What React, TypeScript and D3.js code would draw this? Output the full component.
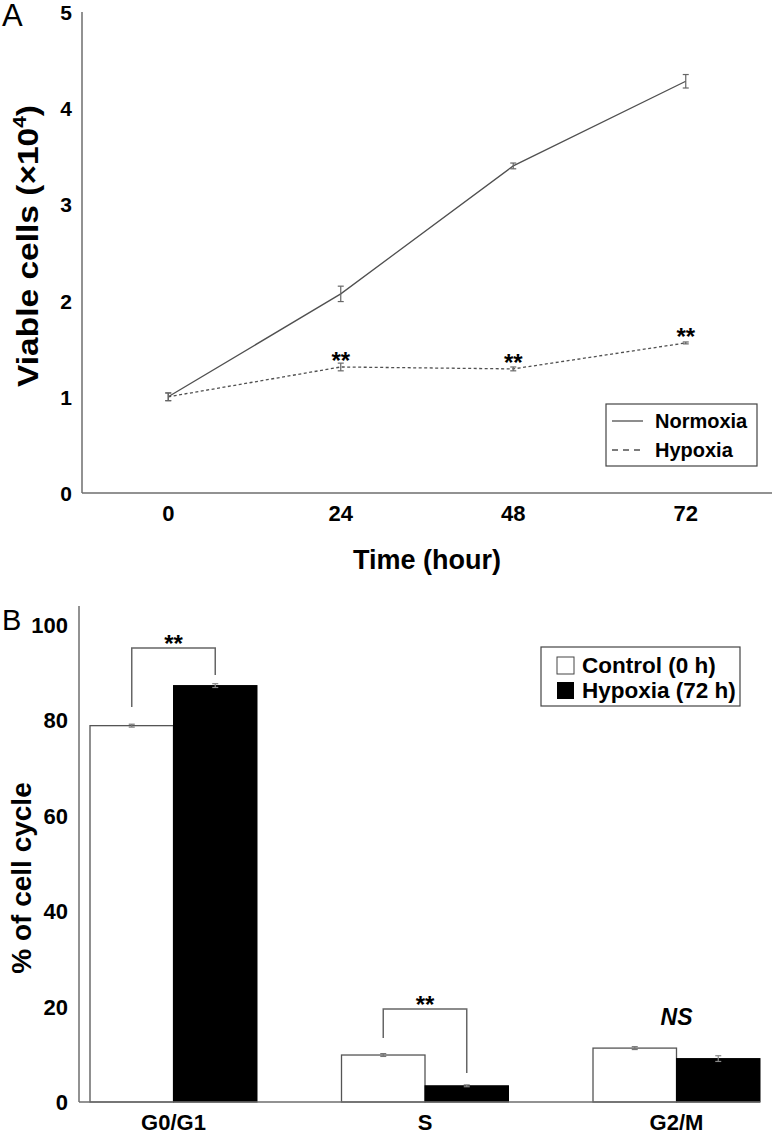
import React from "react";
import * as d3 from "d3";

// ---------- Panel A data ----------
const timePoints = [0, 24, 48, 72];
const normoxia = [1.0, 2.07, 3.4, 4.28];
const normoxiaErr = [0.04, 0.08, 0.03, 0.07];
const hypoxia = [1.0, 1.31, 1.29, 1.56];
const hypoxiaErr = [0.04, 0.04, 0.02, 0.01];
const hypoxiaSig = ["", "**", "**", "**"];
const yTicksA = [0, 1, 2, 3, 4, 5];

// ---------- Panel B data ----------
const phases = ["G0/G1", "S", "G2/M"];
const control0h = [78.9, 9.85, 11.3];
const control0hErr = [0.3, 0.3, 0.3];
const hypoxia72h = [87.3, 3.4, 9.1];
const hypoxia72hErr = [0.4, 0.2, 0.6];
const yTicksB = [0, 20, 40, 60, 80, 100];
const bracketPhases = ["G0/G1", "S"];
const bracketTop = [95.2, 19.5];
const bracketLeftEnd = [82.8, 13.4];
const bracketRightEnd = [89.5, 6.1];
const bracketLabel = ["**", "**"];
const nsPhase = "G2/M";
const nsValue = 17.8;

const FONT = "'Liberation Sans', Arial, sans-serif";
const AXIS = "#6e6e6e";
const LINE = "#505050";

export default function App() {
  // Panel A scales
  const xA = d3.scalePoint<number>().domain(timePoints).range([82, 772]).padding(0.5);
  const yA = d3.scaleLinear().domain([0, 5]).range([493, 12]);
  const lineA = d3
    .line<number>()
    .x((_, i) => xA(timePoints[i]) as number)
    .y((d) => yA(d));

  // Panel B scales
  const xB = d3.scaleBand<string>().domain(phases).range([90, 760]).paddingInner(0.336).paddingOuter(0);
  const bw = xB.bandwidth() / 2;
  const yB = d3.scaleLinear().domain([0, 100]).range([1102, 625]);

  const errBar = (cx: number, y0: number, y1: number, key: string, color = "#666") => (
    <g key={key} stroke={color} strokeWidth={1.2}>
      <line x1={cx} x2={cx} y1={y0} y2={y1} />
      <line x1={cx - 3} x2={cx + 3} y1={y0} y2={y0} />
      <line x1={cx - 3} x2={cx + 3} y1={y1} y2={y1} />
    </g>
  );

  return (
    <svg
      width={773}
      height={1133}
      style={{ position: "absolute", left: 0, top: 0, background: "#fff" }}
      fontFamily={FONT}
    >
      {/* ================= Panel A ================= */}
      <text x={2} y={26} fontSize={31} fill="#000">A</text>
      {/* axes */}
      <line x1={82} x2={82} y1={yA(5)} y2={yA(0)} stroke={AXIS} strokeWidth={1.5} />
      <line x1={82} x2={772} y1={yA(0)} y2={yA(0)} stroke={AXIS} strokeWidth={1.5} />
      {yTicksA.map((t) => (
        <text key={"ya" + t} x={72} y={yA(t) + 8} fontSize={21} fontWeight="bold" textAnchor="end">
          {t}
        </text>
      ))}
      {timePoints.map((t) => (
        <text key={"xa" + t} x={xA(t)} y={521} fontSize={22} fontWeight="bold" textAnchor="middle">
          {t}
        </text>
      ))}
      <text x={427} y={569} fontSize={27} fontWeight="bold" textAnchor="middle">
        Time (hour)
      </text>
      <text
        transform={`translate(38,246) rotate(-90)`}
        fontSize={29}
        fontWeight="bold"
        textAnchor="middle"
        textLength={282}
        lengthAdjust="spacingAndGlyphs"
      >
        Viable cells (×10<tspan fontSize={18} dy={-12}>4</tspan>
        <tspan dy={12}>)</tspan>
      </text>

      {/* lines */}
      <path d={lineA(normoxia) || ""} fill="none" stroke={LINE} strokeWidth={1.3} />
      <path d={lineA(hypoxia) || ""} fill="none" stroke={LINE} strokeWidth={1.3} strokeDasharray="3,2.5" />
      {normoxia.map((v, i) =>
        errBar(xA(timePoints[i]) as number, yA(v + normoxiaErr[i]), yA(v - normoxiaErr[i]), "ne" + i)
      )}
      {hypoxia.map((v, i) =>
        errBar(xA(timePoints[i]) as number, yA(v + hypoxiaErr[i]), yA(v - hypoxiaErr[i]), "he" + i)
      )}
      {hypoxia.map((v, i) =>
        hypoxiaSig[i] ? (
          <text key={"sig" + i} x={xA(timePoints[i])} y={yA(v) + 2} fontSize={24} fontWeight="bold" textAnchor="middle">
            {hypoxiaSig[i]}
          </text>
        ) : null
      )}

      {/* legend A */}
      <rect x={606} y={404} width={151} height={62} fill="#fff" stroke="#444" strokeWidth={1.2} />
      <line x1={612} x2={643} y1={421} y2={421} stroke={LINE} strokeWidth={1.3} />
      <text x={655} y={428} fontSize={20} fontWeight="bold">Normoxia</text>
      <line x1={612} x2={640} y1={450} y2={450} stroke={LINE} strokeWidth={1.3} strokeDasharray="6,5" />
      <text x={655} y={457} fontSize={20} fontWeight="bold">Hypoxia</text>

      {/* ================= Panel B ================= */}
      <text x={2} y={630} fontSize={29} fill="#000">B</text>
      <line x1={79} x2={79} y1={yB(104)} y2={yB(0)} stroke={AXIS} strokeWidth={1.5} />
      {yTicksB.map((t) => (
        <text key={"yb" + t} x={68} y={yB(t) + 8} fontSize={22} fontWeight="bold" textAnchor="end">
          {t}
        </text>
      ))}
      <text
        transform={`translate(31,878) rotate(-90)`}
        fontSize={28}
        fontWeight="bold"
        textAnchor="middle"
      >
        % of cell cycle
      </text>

      {phases.map((p, i) => {
        const x0 = xB(p) as number;
        return (
          <g key={"bar" + p}>
            <rect x={x0} y={yB(control0h[i])} width={bw} height={yB(0) - yB(control0h[i])} fill="#fff" stroke="#555" strokeWidth={1.3} />
            <rect x={x0 + bw} y={yB(hypoxia72h[i])} width={bw} height={yB(0) - yB(hypoxia72h[i])} fill="#000" stroke="#000" strokeWidth={1} />
            {errBar(x0 + bw / 2, yB(control0h[i] + control0hErr[i]), yB(control0h[i] - control0hErr[i]), "ce" + i, "#777")}
            {errBar(x0 + bw * 1.5, yB(hypoxia72h[i] + hypoxia72hErr[i]), yB(hypoxia72h[i] - hypoxia72hErr[i]), "he2" + i, "#888")}
            <text x={x0 + bw} y={1130} fontSize={22} fontWeight="bold" textAnchor="middle">
              {p}
            </text>
          </g>
        );
      })}
      <line x1={79} x2={760} y1={yB(0)} y2={yB(0)} stroke={AXIS} strokeWidth={1.5} />

      {/* brackets */}
      {bracketPhases.map((p, i) => {
        const x0 = xB(p) as number;
        const lx = x0 + bw / 2;
        const rx = x0 + bw * 1.5;
        return (
          <g key={"br" + p}>
            <path
              d={`M${lx},${yB(bracketLeftEnd[i])}V${yB(bracketTop[i])}H${rx}V${yB(bracketRightEnd[i])}`}
              fill="none"
              stroke="#666"
              strokeWidth={1.5}
            />
            <text x={x0 + bw} y={yB(bracketTop[i]) + 4} fontSize={24} fontWeight="bold" textAnchor="middle">
              {bracketLabel[i]}
            </text>
          </g>
        );
      })}
      <text
        x={(xB(nsPhase) as number) + bw}
        y={yB(nsValue) + 8}
        fontSize={23}
        fontWeight="bold"
        fontStyle="italic"
        textAnchor="middle"
      >
        NS
      </text>

      {/* legend B */}
      <rect x={541} y={647} width={199} height={59} fill="#fff" stroke="#444" strokeWidth={1.2} />
      <rect x={557} y={657} width={17} height={17} fill="#fff" stroke="#444" strokeWidth={1} />
      <text x={582} y={673} fontSize={22.5} fontWeight="bold">Control (0 h)</text>
      <rect x={557} y={682} width={17} height={17} fill="#000" />
      <text x={582} y={698} fontSize={22.5} fontWeight="bold">Hypoxia (72 h)</text>
    </svg>
  );
}
